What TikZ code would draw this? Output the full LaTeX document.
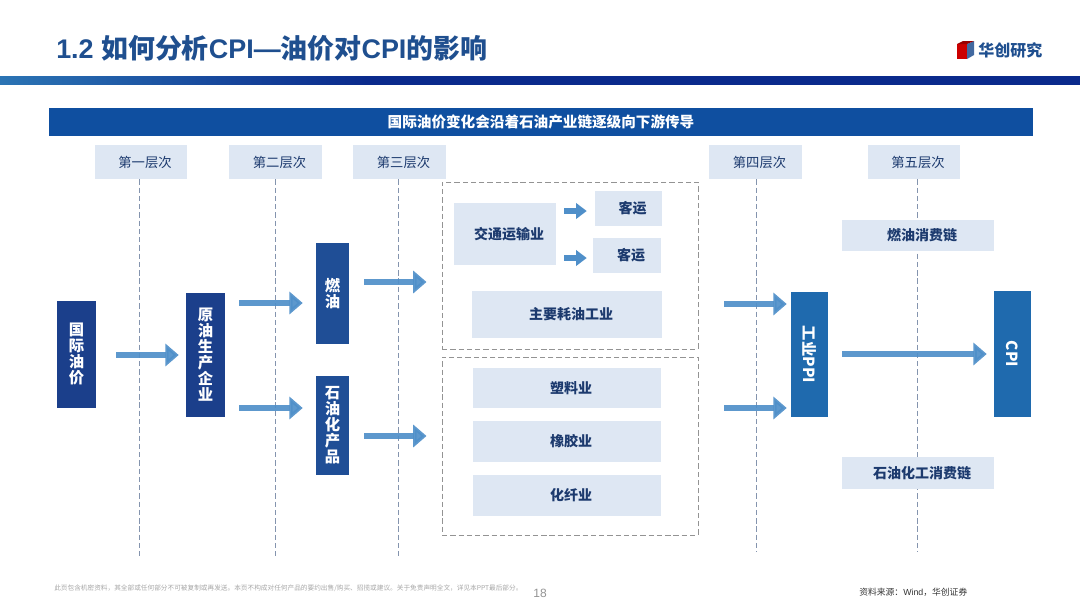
\documentclass[tikz,border=0pt]{standalone}
\usepackage{fontspec}
\setmainfont{Liberation Sans}
\newfontfamily\cjk{Noto Sans CJK SC}
\usetikzlibrary{arrows.meta,calc}
\definecolor{titleblue}{HTML}{1F4F8F}
\definecolor{barstart}{HTML}{2B74B4}
\definecolor{barend}{HTML}{0A2A8C}
\definecolor{banner}{HTML}{0F4FA0}
\definecolor{paleblue}{HTML}{DEE7F3}
\definecolor{deepblue}{HTML}{1B3F8B}
\definecolor{midblue}{HTML}{1F4E96}
\definecolor{brightblue}{HTML}{1F6AAE}
\definecolor{flowblue}{HTML}{4F8FC9}
\definecolor{inkblue}{HTML}{1C3A6E}
\definecolor{guide}{HTML}{8494AE}
\pgfdeclarehorizontalshading{barshade}{100bp}{color(0bp)=(barstart); color(25bp)=(barstart); color(42bp)=(barend); color(100bp)=(barend)}
\newcommand\px[1]{#1*0.75pt}
\newcommand\nudged[1]{\hspace*{6pt}#1}
\tikzset{
  x=0.75pt,y=-0.75pt,
  pale/.style={fill=paleblue,inner sep=0pt,text=inkblue,font=\cjk\fontsize{10.5}{12}\selectfont\bfseries},
  level/.style={pale,font=\cjk\fontsize{10}{12}\selectfont},
  pillar/.style={inner sep=0pt,text=white,align=center,font=\cjk\fontsize{11.5}{12}\selectfont\bfseries},
  size/.style 2 args={minimum width=\px{#1},minimum height=\px{#2}},
  guideline/.style={draw=guide,line width=0.6pt,dash pattern=on 4pt off 2.2pt},
  groupbox/.style={draw=gray!85,line width=0.7pt,dash pattern=on 4pt off 2.2pt,inner sep=0pt},
  flow/.style={draw=flowblue,opacity=0.92,line width=5pt,-{Triangle[length=10pt,width=16.5pt]}},
  smallflow/.style={draw=flowblue,line width=3.8pt,-{Triangle[length=8pt,width=11.5pt]}},
}
\begin{document}
\begin{tikzpicture}
\useasboundingbox (0,0) rectangle (1080,608);
% header
\node[anchor=west,inner sep=0pt,text=titleblue,font=\fontsize{20.2}{24}\selectfont\bfseries] (title) at (56,48)
  {1.2 {\cjk 如何分析}CPI—{\cjk 油价对}CPI{\cjk 的影响}};
\shade[shading=barshade,draw=none] (0,76) rectangle (1080,84);
% logo
\fill[red!80!black] (957,44) -- (967,44) -- (967,59) -- (957,59) -- cycle;
\fill[titleblue!85] (967,44) -- (974,41) -- (974,55) -- (967,59) -- cycle;
\fill[red!60!black] (957,44) -- (963,41) -- (974,41) -- (967,44) -- cycle;
\node[anchor=west,inner sep=0pt,text=titleblue,font=\cjk\fontsize{12}{14}\selectfont\bfseries] (logo) at (978,50) {华创研究};
% banner
\node[fill=banner,inner sep=0pt,size={984}{28},text=white,font=\cjk\fontsize{10.95}{12}\selectfont\bfseries] (banner) at (541,122) {国际油价变化会沿着石油产业链逐级向下游传导};
% levels
\node[level,size={92}{34}] (l1) at (141,162) {\nudged{第一层次}};
\node[level,size={93}{34}] (l2) at (275.5,162) {\nudged{第二层次}};
\node[level,size={93}{34}] (l3) at (399.5,162) {\nudged{第三层次}};
\node[level,size={93}{34}] (l4) at (755.5,162) {\nudged{第四层次}};
\node[level,size={92}{34}] (l5) at (914,162) {\nudged{第五层次}};
\coordinate (e1) at (139,556);
\coordinate (e2) at (275.5,556);
\coordinate (e3) at (398,556);
\coordinate (e4) at (756,552);
\coordinate (e5) at (917,552);
\foreach \i in {1,...,5} {\draw[guideline] (l\i.south -| e\i) -- (e\i);}
% pillars
\node[pillar,fill=deepblue,size={39}{107}] (oil) at (76.5,354.5) {国\\际\\油\\价};
\node[pillar,fill=deepblue,size={39}{124}] (crude) at (205.5,355) {原\\油\\生\\产\\企\\业};
\node[pillar,fill=midblue,size={33}{101}] (fuel) at (332.5,293.5) {燃\\油};
\node[pillar,fill=midblue,size={33}{99}] (petro) at (332.5,425.5) {石\\油\\化\\产\\品};
\node[pillar,fill=brightblue,size={37}{125}] (ppi) at (809.5,354.5) {\rotatebox{-90}{工业PPI}};
\node[pillar,fill=brightblue,size={37}{126}] (cpi) at (1012.5,354) {\rotatebox{-90}{CPI}};
% dashed groups
\node[groupbox,size={256}{167}] (g1) at (570,265.5) {};
\node[groupbox,size={256}{178}] (g2) at (570,446) {};
% boxes
\node[pale,size={102}{62}] (trans) at (505,234) {\nudged{交通运输业}};
\node[pale,size={67}{35}] (k1) at (628.5,208.5) {\nudged{客运}};
\node[pale,size={68}{35}] (k2) at (627,255.5) {\nudged{客运}};
\node[pale,size={190}{47}] (main) at (567,314.5) {\nudged{主要耗油工业}};
\node[pale,size={188}{40}] (plastic) at (567,388) {\nudged{塑料业}};
\node[pale,size={188}{41}] (rubber) at (567,441.5) {\nudged{橡胶业}};
\node[pale,size={188}{41}] (fiber) at (567,495.5) {\nudged{化纤业}};
\node[pale,size={152}{31}] (chain1) at (918,235.5) {\nudged{燃油消费链}};
\node[pale,size={152}{32}] (chain2) at (918,473) {\nudged{石油化工消费链}};
% flows
\draw[flow,shorten <=\px{20},shorten >=\px{7}] (oil.east |- 0,355) -- (crude.west |- 0,355);
\draw[flow,shorten <=\px{14},shorten >=\px{13}] (crude.east |- 0,303) -- (fuel.west |- 0,303);
\draw[flow,shorten <=\px{14},shorten >=\px{13}] (crude.east |- 0,408) -- (petro.west |- 0,408);
\draw[flow,shorten <=\px{15},shorten >=\px{15}] (fuel.east |- 0,282) -- (g1.west |- 0,282);
\draw[flow,shorten <=\px{15},shorten >=\px{15}] (petro.east |- 0,436) -- (g2.west |- 0,436);
\draw[flow,shorten <=\px{26},shorten >=\px{4}] (g1.east |- 0,304) -- (ppi.west |- 0,304);
\draw[flow,shorten <=\px{26},shorten >=\px{4}] (g2.east |- 0,408) -- (ppi.west |- 0,408);
\draw[flow,shorten <=\px{14},shorten >=\px{7}] (ppi.east |- 0,354) -- (cpi.west |- 0,354);
\draw[smallflow,shorten <=\px{8},shorten >=\px{8}] (trans.east |- 0,211) -- (k1.west |- 0,211);
\draw[smallflow,shorten <=\px{8},shorten >=\px{6}] (trans.east |- 0,258) -- (k2.west |- 0,258);
% footer
\node[anchor=west,inner sep=0pt,text=gray!70,font=\cjk\fontsize{5}{6}\selectfont] (note) at (54,588) {此页包含机密资料，其全部或任何部分不可被复制或再发送。本页不构成对任何产品的要约出售/购买、招揽或建议。关于免责声明全文，详见本PPT最后部分。};
\node[inner sep=0pt,text=gray!85,font=\fontsize{9}{10}\selectfont] (page) at (540,593) {18};
\node[anchor=west,inner sep=0pt,text=black!80,font=\fontsize{6.6}{8}\selectfont] (source) at (859,592) {{\cjk 资料来源：}Wind{\cjk ，华创证券}};
\end{tikzpicture}
\end{document}
